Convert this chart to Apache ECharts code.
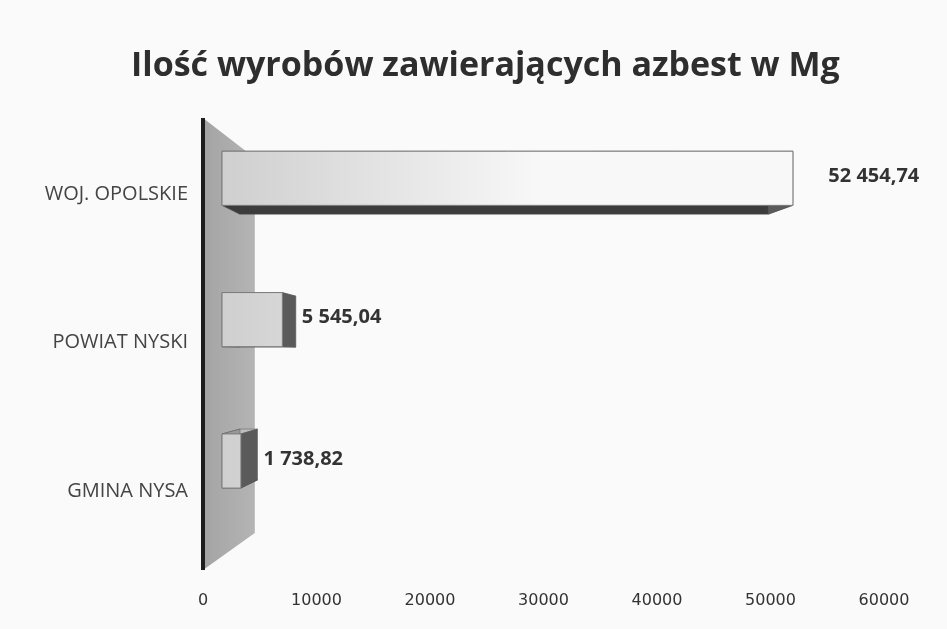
<!DOCTYPE html>
<html>
<head>
<meta charset="utf-8">
<script src="https://cdn.jsdelivr.net/npm/echarts@6/dist/echarts.min.js"></script>
<style>
  html, body { margin: 0; padding: 0; background: #fafafa; }
  #chart { width: 947px; height: 629px; }
</style>
</head>
<body>
<div id="chart"></div>
<script>
// dane
var categories = ['GMINA NYSA', 'POWIAT NYSKI', 'WOJ. OPOLSKIE'];
var values = [1738.82, 5545.04, 52454.74];
var valueLabels = ['1 738,82', '5 545,04', '52 454,74'];
var xTicks = [0, 10000, 20000, 30000, 40000, 50000, 60000];

var chart = echarts.init(document.getElementById('chart'));

// punkt zbiegu perspektywy (wzgledem lewego gornego rogu siatki)
var VP_DX = 259, VP_DY = 233;

function project(p, vp, kx, ky) {
    return [p[0] + (vp[0] - p[0]) * kx, p[1] + (vp[1] - p[1]) * ky];
}

// sciana boczna (tlo 3D) + os
function renderWall(params, api) {
    var cs = params.coordSys;
    var x0 = api.coord([0, 0])[0];
    var vp = [x0 + VP_DX, cs.y + VP_DY];
    var top = [x0, cs.y - 2];
    var bot = [x0, cs.y + cs.height + 5];
    var topB = project(top, vp, 0.2, 0.17);
    var botB = project(bot, vp, 0.2, 0.17);
    return {
        type: 'group',
        children: [{
            type: 'polygon',
            shape: { points: [top, topB, botB, bot] },
            style: {
                fill: new echarts.graphic.LinearGradient(x0, 0, topB[0], 0, [
                    { offset: 0, color: '#a4a4a4' },
                    { offset: 1, color: '#b4b4b4' }
                ], true)
            }
        }, {
            type: 'line',
            shape: { x1: x0, y1: top[1], x2: x0, y2: bot[1] },
            style: { stroke: '#1e1e1e', lineWidth: 4 }
        }]
    };
}

// slupek 3D
function renderBar(params, api) {
    var cs = params.coordSys;
    var idx = api.value(1);
    var c0 = api.coord([0, idx]);
    var cv = api.coord([api.value(0), idx]);
    var band = api.size([0, 1])[1];
    var vp = [c0[0] + VP_DX, cs.y + VP_DY];

    var x1 = c0[0] + 19;
    var x2 = x1 + (cv[0] - c0[0]) * 0.959;
    var yc = cs.y + (c0[1] - cs.y) * 0.953 - 12.4;
    var h = band * 0.365;
    var y1 = yc - h / 2, y2 = yc + h / 2;

    var f = [[x1, y1], [x2, y1], [x2, y2], [x1, y2]];
    var b = f.map(function (p) { return project(p, vp, 0.075, 0.06); });

    var faces = [
        { pts: [f[0], f[1], b[1], b[0]], color: '#bdbdbd' },  // gora
        { pts: [f[0], f[3], b[3], b[0]], color: '#9a9a9a' },  // lewa
        { pts: [f[3], f[2], b[2], b[3]], color: '#3c3c3c' },  // dol
        { pts: [f[1], f[2], b[2], b[1]], color: '#5a5a5a' }   // prawa
    ];
    var children = faces.map(function (fc) {
        return {
            type: 'polygon',
            shape: { points: fc.pts },
            style: { fill: fc.color, stroke: '#555', lineWidth: 0.5 }
        };
    });
    children.push({
        type: 'rect',
        shape: { x: x1, y: y1, width: x2 - x1, height: y2 - y1 },
        style: {
            fill: new echarts.graphic.LinearGradient(x1, 0, x1 + 320, 0, [
                { offset: 0, color: '#cfcfcf' },
                { offset: 1, color: '#f8f8f8' }
            ], true),
            stroke: '#7a7a7a',
            lineWidth: 1
        }
    });
    var rightEdge = Math.max(x2, b[1][0]);
    children.push({
        type: 'text',
        style: {
            text: valueLabels[params.dataIndex],
            x: Math.max(cv[0] + 30, rightEdge + 6),
            y: yc - 2,
            verticalAlign: 'middle',
            fill: '#333',
            font: 'bold 20px "Open Sans"'
        }
    });
    return { type: 'group', children: children };
}

var option = {
    backgroundColor: '#fafafa',
    animation: false,
    title: {
        text: 'Ilość wyrobów zawierających azbest w Mg',
        left: 126,
        top: 44,
        textStyle: {
            fontFamily: 'Open Sans',
            fontWeight: 'bold',
            fontSize: 34,
            color: '#2e2e2e'
        }
    },
    grid: {
        left: 203,
        right: 63,
        top: 120,
        bottom: 64
    },
    xAxis: {
        type: 'value',
        min: xTicks[0],
        max: xTicks[xTicks.length - 1],
        interval: 10000,
        axisLine: { show: false },
        axisTick: { show: false },
        splitLine: { show: false },
        axisLabel: {
            margin: 28,
            color: '#333',
            fontFamily: 'DejaVu Sans',
            fontSize: 16,
            formatter: function (v) { return String(v); }
        }
    },
    yAxis: {
        type: 'category',
        data: categories,
        axisLine: { show: false },
        axisTick: { show: false },
        splitLine: { show: false },
        axisLabel: {
            margin: 15,
            color: '#444',
            fontFamily: 'Open Sans',
            fontSize: 20
        }
    },
    series: [{
        type: 'custom',
        name: 'sciana',
        renderItem: renderWall,
        data: [[0, 0]],
        encode: { x: 0, y: 1 },
        z: 1,
        silent: true
    }, {
        type: 'custom',
        name: 'Mg',
        renderItem: renderBar,
        data: values.map(function (v, i) { return [v, i]; }),
        encode: { x: 0, y: 1 },
        z: 2
    }]
};
chart.setOption(option);
</script>
</body>
</html>
